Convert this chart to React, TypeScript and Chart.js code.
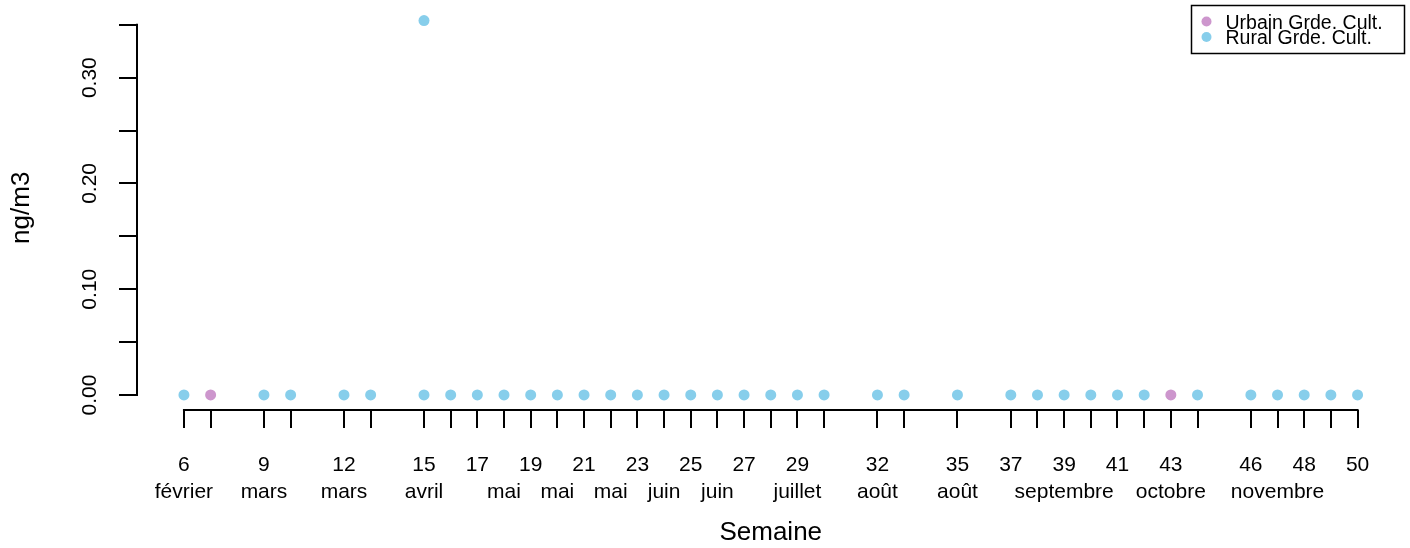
import React, { useEffect, useRef } from 'react';
import { Chart, registerables } from 'chart.js';

Chart.register(...registerables);

// ---- data ----
const ruralWeeks = [6, 9, 10, 12, 13, 15, 15, 16, 17, 18, 19, 20, 21, 22, 23, 24, 25, 26, 27, 28, 29, 30, 32, 33, 35, 37, 38, 39, 40, 41, 42, 44, 46, 47, 48, 49, 50];
const ruralValues = [0, 0, 0, 0, 0, 0, 0.354, 0, 0, 0, 0, 0, 0, 0, 0, 0, 0, 0, 0, 0, 0, 0, 0, 0, 0, 0, 0, 0, 0, 0, 0, 0, 0, 0, 0, 0, 0];
const urbanWeeks = [7, 43];
const urbanValues = [0, 0];

const tickWeeks = [6, 7, 9, 10, 12, 13, 15, 16, 17, 18, 19, 20, 21, 22, 23, 24, 25, 26, 27, 28, 29, 30, 32, 33, 35, 37, 38, 39, 40, 41, 42, 43, 44, 46, 47, 48, 49, 50];
const numberLabelWeeks = [6, 9, 12, 15, 17, 19, 21, 23, 25, 27, 29, 32, 35, 37, 39, 41, 43, 46, 48, 50];
const monthLabelWeeks = [6, 9, 12, 15, 18, 20, 22, 24, 26, 29, 32, 35, 39, 43, 47];
const monthLabelTexts = ['février', 'mars', 'mars', 'avril', 'mai', 'mai', 'mai', 'juin', 'juin', 'juillet', 'août', 'août', 'septembre', 'octobre', 'novembre'];

const yTicks = [0, 0.05, 0.1, 0.15, 0.2, 0.25, 0.3, 0.35];
const yLabelledTicks = [0, 0.1, 0.2, 0.3];

const seriesNames = ['Urbain Grde. Cult.', 'Rural Grde. Cult.'];
const seriesColors = ['#CD96CD', '#87CEEB'];

const X_MIN = 4.24;
const X_MAX = 51.76;
const Y_MIN = -0.0142;
const Y_MAX = 0.3682;

const FONT = "'Liberation Sans', Arial, Helvetica, sans-serif";

const axisLinesPlugin = {
  id: 'axisLines',
  afterDraw(chart: any) {
    const { ctx, chartArea, scales } = chart;
    const x = scales.x;
    const y = scales.y;
    ctx.save();
    ctx.strokeStyle = '#000';
    ctx.lineWidth = 2;
    ctx.lineCap = 'square';
    ctx.beginPath();
    ctx.moveTo(x.getPixelForValue(tickWeeks[0]), chartArea.bottom);
    ctx.lineTo(x.getPixelForValue(tickWeeks[tickWeeks.length - 1]), chartArea.bottom);
    ctx.moveTo(chartArea.left, y.getPixelForValue(yTicks[0]));
    ctx.lineTo(chartArea.left, y.getPixelForValue(yTicks[yTicks.length - 1]));
    ctx.stroke();
    ctx.restore();
  },
};

const boxLegendPlugin = {
  id: 'boxLegend',
  afterDraw(chart: any) {
    const { ctx, chartArea } = chart;
    const w = 213;
    const h = 48;
    const left = chartArea.right - w;
    const top = chartArea.top;
    ctx.save();
    ctx.fillStyle = '#fff';
    ctx.fillRect(left, top, w, h);
    ctx.strokeStyle = '#000';
    ctx.lineWidth = 1.5;
    ctx.strokeRect(left, top, w, h);
    ctx.font = `19.5px ${FONT}`;
    ctx.textBaseline = 'alphabetic';
    ctx.textAlign = 'left';
    const datasets = chart.data.datasets;
    datasets.forEach((ds: any, i: number) => {
      const cy = top + 16 + i * 15.5;
      ctx.fillStyle = ds.backgroundColor;
      ctx.beginPath();
      ctx.arc(left + 15, cy, 5, 0, Math.PI * 2);
      ctx.fill();
      ctx.fillStyle = '#000';
      ctx.fillText(ds.label, left + 34, cy + 7);
    });
    ctx.restore();
  },
};

export default function App() {
  const canvasRef = useRef<HTMLCanvasElement | null>(null);

  useEffect(() => {
    document.body.style.margin = '0';
    const canvas = canvasRef.current;
    if (!canvas) return;

    const chart = new Chart(canvas, {
      type: 'scatter',
      data: {
        datasets: [
          {
            label: seriesNames[0],
            data: urbanWeeks.map((w, i) => ({ x: w, y: urbanValues[i] })),
            backgroundColor: seriesColors[0],
            borderWidth: 0,
            pointRadius: 5.5,
          },
          {
            label: seriesNames[1],
            data: ruralWeeks.map((w, i) => ({ x: w, y: ruralValues[i] })),
            backgroundColor: seriesColors[1],
            borderWidth: 0,
            pointRadius: 5.5,
          },
        ],
      },
      options: {
        animation: false,
        responsive: false,
        devicePixelRatio: 1,
        layout: { padding: { top: 5, right: 5, left: 0, bottom: 0 } },
        plugins: {
          legend: { display: false },
          tooltip: { enabled: false },
        },
        scales: {
          x: {
            type: 'linear',
            min: X_MIN,
            max: X_MAX,
            border: { display: false },
            grid: {
              display: true,
              drawOnChartArea: false,
              drawTicks: true,
              tickLength: 18,
              color: '#000',
              lineWidth: 2,
            },
            afterBuildTicks: (scale: any) => {
              scale.ticks = tickWeeks.map((v) => ({ value: v }));
            },
            afterFit: (scale: any) => {
              scale.height = 138;
              scale.paddingLeft = 0;
              scale.paddingRight = 0;
            },
            ticks: {
              autoSkip: false,
              minRotation: 0,
              maxRotation: 0,
              padding: 24,
              color: '#000',
              font: { family: FONT, size: 21, lineHeight: 1.29 },
              callback: (value: any) => {
                const v = Number(value);
                const ni = numberLabelWeeks.indexOf(v);
                const mi = monthLabelWeeks.indexOf(v);
                return [ni >= 0 ? String(v) : '', mi >= 0 ? monthLabelTexts[mi] : ''];
              },
            },
            title: {
              display: true,
              text: 'Semaine',
              color: '#000',
              font: { family: FONT, size: 26 },
              padding: { top: 0, bottom: 0 },
            },
          },
          y: {
            type: 'linear',
            min: Y_MIN,
            max: Y_MAX,
            border: { display: false },
            grid: {
              display: true,
              drawOnChartArea: false,
              drawTicks: true,
              tickLength: 18,
              color: '#000',
              lineWidth: 2,
            },
            afterBuildTicks: (scale: any) => {
              scale.ticks = yTicks.map((v) => ({ value: v }));
            },
            afterFit: (scale: any) => {
              scale.width = 137;
              scale.paddingTop = 0;
              scale.paddingBottom = 0;
            },
            ticks: {
              minRotation: 90,
              maxRotation: 90,
              crossAlign: 'center',
              padding: 8.6,
              color: '#000',
              font: { family: FONT, size: 21 },
              callback: (value: any) => {
                const v = Number(value);
                const hit = yLabelledTicks.find((t) => Math.abs(t - v) < 1e-9);
                return hit !== undefined ? hit.toFixed(2) : '';
              },
            },
            title: {
              display: true,
              text: 'ng/m3',
              color: '#000',
              font: { family: FONT, size: 26 },
              padding: { top: 6, bottom: 0 },
            },
          },
        },
      },
      plugins: [axisLinesPlugin, boxLegendPlugin],
    } as any);

    return () => {
      chart.destroy();
    };
  }, []);

  return (
    <div style={{ width: 1410, height: 548, position: 'relative', background: '#fff' }}>
      <canvas ref={canvasRef} width={1410} height={548} style={{ display: 'block', width: 1410, height: 548 }} />
    </div>
  );
}
